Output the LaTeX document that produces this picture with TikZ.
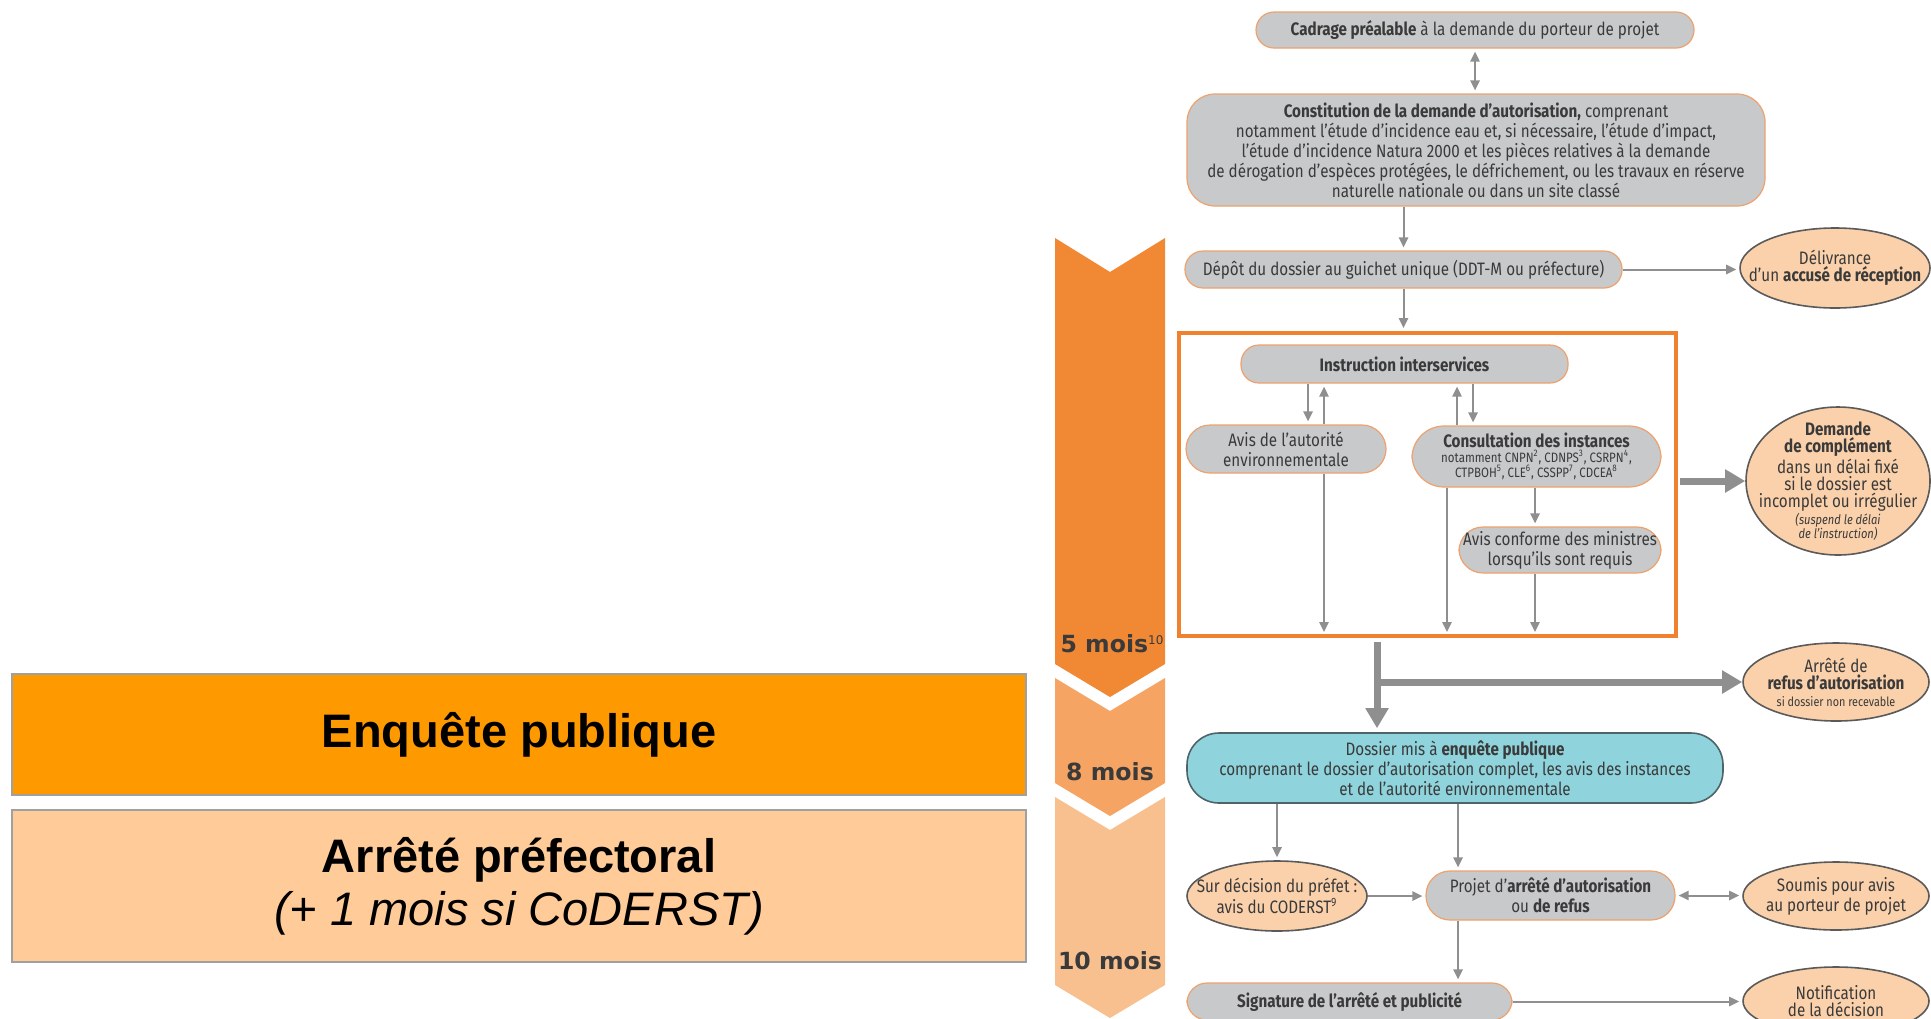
\documentclass[tikz,border=0pt]{standalone}
\usepackage{fontspec}
\setmainfont{Fira Sans}[FakeStretch=0.845]
\newfontfamily\panelfont{Liberation Sans}
\newfontfamily\monthfont{DejaVu Sans}
\usetikzlibrary{arrows.meta,shapes.geometric}

\definecolor{boxgray}{HTML}{C8C9CB}
\definecolor{boxedge}{HTML}{EDA26E}
\definecolor{txtgray}{HTML}{3A3A3A}
\definecolor{arrowgray}{HTML}{8F8F8F}
\definecolor{peach}{HTML}{FAD1AB}
\definecolor{ovaledge}{HTML}{5A5A5A}
\definecolor{enqteal}{HTML}{8FD3DC}
\definecolor{tealedge}{HTML}{4F6468}
\definecolor{frameor}{HTML}{F0812E}
\definecolor{chevA}{HTML}{F18834}
\definecolor{chevB}{HTML}{F5A463}
\definecolor{chevC}{HTML}{F8C08F}
\definecolor{enqor}{HTML}{FF9900}
\definecolor{arrpeach}{HTML}{FFCC99}
\definecolor{paneledge}{HTML}{A0A0A0}

% box given by its corners (x1,y1) (x2,y2) in pixel units
\newcommand\pbox[7]{%
  \node[#6, minimum width={(#4-#2)*0.5pt}, minimum height={(#5-#3)*0.5pt}] (#1) at ({(#2+#4)/2},{(#3+#5)/2}) {#7};}
% oval given by centre and radii in pixel units
\newcommand\poval[6]{%
  \node[ovalnode, minimum width={#4*1pt}, minimum height={#5*1pt}] (#1) at (#2,#3) {};
  \node[ovaltext] at (#1) {#6};}

\tikzset{
  x=0.5pt, y=-0.5pt,
  stepbox/.style={draw=boxedge, line width=0.6pt, fill=boxgray, rounded corners=7pt,
    inner sep=0pt, align=center, text=txtgray, font=\fontsize{9}{10}\selectfont},
  tealbox/.style={stepbox, draw=tealedge, line width=0.8pt, fill=enqteal},
  ovalnode/.style={ellipse, draw=ovaledge, line width=0.8pt, fill=peach, inner sep=0pt},
  ovaltext/.style={align=center, text=txtgray, inner sep=0pt, font=\fontsize{9}{8.5}\selectfont},
  flow/.style={draw=arrowgray, line width=1pt, arrows={-Triangle[length=5pt,width=4.6pt]}, shorten >=1.5pt},
  flowboth/.style={flow, arrows={Triangle[length=5pt,width=4.6pt]-Triangle[length=5pt,width=4.6pt]}, shorten <=1.5pt},
  bigflow/.style={draw=arrowgray, line width=3.5pt, arrows={-Triangle[length=10pt,width=11pt]}},
  panel/.style={draw=paneledge, line width=0.8pt, inner sep=0pt, align=center, text=black,
    font=\panelfont\fontsize{23.5}{26.5}\selectfont},
  monthlbl/.style={inner sep=0pt, anchor=base, text=txtgray, font=\monthfont\bfseries\fontsize{11.8}{12}\selectfont},
}

\begin{document}
\begin{tikzpicture}
\useasboundingbox (0,0) rectangle (1931,1018);
\clip (0,0) rectangle (1931,1018);
\fill[white] (0,0) rectangle (1931,1018);

% left panel
\pbox{enqpanel}{12}{674}{1026}{795}{panel, fill=enqor}{\bfseries Enquête publique}
\pbox{arrpanel}{12}{810}{1026}{962}{panel, fill=arrpeach}{\bfseries Arrêté préfectoral\\ \itshape (+ 1 mois si CoDERST)}

% time chevrons
\fill[chevA] (1055,238) -- (1110,272) -- (1165,238) -- (1165,664) -- (1110,697) -- (1055,664) -- cycle;
\fill[chevB] (1055,678) -- (1110,711) -- (1165,678) -- (1165,783) -- (1110,816) -- (1055,783) -- cycle;
\fill[chevC] (1055,797) -- (1110,830) -- (1165,797) -- (1165,985) -- (1110,1018) -- (1055,985) -- cycle;
\node[monthlbl] (m5) at (1112,652) {5 mois\raisebox{0.62ex}{\fontsize{6}{6}\selectfont\mdseries 10}};
\node[monthlbl] (m8) at (1110,780) {8 mois};
\node[monthlbl] (m10) at (1110,969) {10 mois};

% main steps
\pbox{cadrage}{1256}{12}{1694}{48}{stepbox, rounded corners=9pt}{\textbf{Cadrage préalable} à la demande du porteur de projet}
\pbox{constit}{1187}{94}{1765}{206}{stepbox, rounded corners=14pt}{\textbf{Constitution de la demande d’autorisation,} comprenant\\ notamment l’étude d’incidence eau et, si nécessaire, l’étude d’impact,\\ l’étude d’incidence Natura 2000 et les pièces relatives à la demande\\ de dérogation d’espèces protégées, le défrichement, ou les travaux en réserve\\ naturelle nationale ou dans un site classé}
\pbox{depot}{1185}{251}{1622}{288}{stepbox, rounded corners=9pt}{Dépôt du dossier au guichet unique (DDT-M ou préfecture)}

% instruction frame
\pbox{frame}{1179}{333}{1676}{636}{draw=frameor, line width=2pt, inner sep=0pt}{}
\pbox{instr}{1241}{345}{1568}{383}{stepbox, rounded corners=9pt}{\textbf{Instruction interservices}}
\pbox{avisae}{1186}{425}{1386}{473}{stepbox, rounded corners=12pt}{Avis de l’autorité\\ environnementale}
\pbox{consult}{1412}{426}{1661}{487}{stepbox, rounded corners=16pt, font=\fontsize{9}{7.5}\selectfont}{\textbf{Consultation des instances}\\ {\fontsize{6.8}{7}\selectfont notamment CNPN\textsuperscript{2}, CDNPS\textsuperscript{3}, CSRPN\textsuperscript{4},}\\ {\fontsize{6.8}{7}\selectfont CTPBOH\textsuperscript{5}, CLE\textsuperscript{6}, CSSPP\textsuperscript{7}, CDCEA\textsuperscript{8}}}
\pbox{conforme}{1459}{527}{1661}{573}{stepbox, rounded corners=12pt}{Avis conforme des ministres\\ lorsqu’ils sont requis}

\pbox{enquete}{1187}{733}{1723}{803}{tealbox, rounded corners=16pt}{Dossier mis à \textbf{enquête publique}\\ comprenant le dossier d’autorisation complet, les avis des instances\\ et de l’autorité environnementale}
\pbox{projet}{1426}{871}{1675}{920}{stepbox, rounded corners=12pt}{Projet d’\textbf{arrêté d’autorisation}\\ ou \textbf{de refus}}
\pbox{signature}{1187}{983}{1512}{1020}{stepbox, rounded corners=10pt}{\textbf{Signature de l’arrêté et publicité}}

% side outcomes
\poval{deliv}{1835}{268}{95}{40}{Délivrance\\ d’un \textbf{accusé de réception}}
\poval{demande}{1838}{481}{92}{74}{\textbf{Demande}\\ \textbf{de complément}\\ dans un délai fixé\\ si le dossier est\\ incomplet ou irrégulier\\ {\itshape\fontsize{6.6}{7}\selectfont (suspend le délai}\\[-1.5pt] {\itshape\fontsize{6.6}{7}\selectfont de l’instruction)}}
\poval{refus}{1836}{682}{93}{39}{Arrêté de\\ \textbf{refus d’autorisation}\\ {\fontsize{6.4}{7}\selectfont si dossier non recevable}}
\poval{coderst}{1277}{896}{90}{35}{Sur décision du préfet :\\ avis du CODERST\textsuperscript{9}}
\poval{soumis}{1836}{896}{93}{34}{Soumis pour avis\\ au porteur de projet}
\poval{notif}{1836}{1001}{93}{34}{Notification\\ de la décision}

% column positions of the vertical connectors
\coordinate (c1) at (1308,0);
\coordinate (c2) at (1324,0);
\coordinate (c3) at (1457,0);
\coordinate (c4) at (1473,0);
\coordinate (c5) at (1447,0);
\coordinate (c6) at (1535,0);
\coordinate (c7) at (1377,0);
\coordinate (c9) at (1458,0);

% connectors
\draw[flowboth] (cadrage.south) -- (cadrage.south |- constit.north);
\draw[flow] (depot.north |- constit.south) -- (depot.north);
\draw[flow] (depot.east) -- (depot.east -| deliv.west);
\draw[flow] (depot.south) -- (depot.south |- frame.north);

\draw[flow] (instr.south -| c1) -- (avisae.north -| c1);
\draw[flow] (avisae.north -| c2) -- (instr.south -| c2);
\draw[flow] (consult.north -| c3) -- (instr.south -| c3);
\draw[flow] (instr.south -| c4) -- (consult.north -| c4);
\draw[flow, shorten >=3pt] (avisae.south -| c2) -- (frame.south -| c2);
\draw[flow, shorten >=3pt] (consult.south -| c5) -- (frame.south -| c5);
\draw[flow] (consult.south -| c6) -- (conforme.north -| c6);
\draw[flow, shorten >=3pt] (conforme.south -| c6) -- (frame.south -| c6);

\draw[bigflow, shorten <=1pt] (frame.east |- demande.west) -- (demande.west);
\draw[bigflow, shorten <=2pt, shorten >=2pt] (frame.south -| c7) -- (enquete.north -| c7);
\draw[bigflow] (c7 |- refus.west) -- (refus.west);

\draw[flow] (enquete.south -| coderst.north) -- (coderst.north);
\draw[flow] (enquete.south -| c9) -- (projet.north -| c9);
\draw[flow] (coderst.east) -- (coderst.east -| projet.west);
\draw[flowboth] (projet.east) -- (projet.east -| soumis.west);
\draw[flow] (projet.south -| c9) -- (signature.north -| c9);
\draw[flow] (signature.east) -- (signature.east -| notif.west);
\end{tikzpicture}
\end{document}
